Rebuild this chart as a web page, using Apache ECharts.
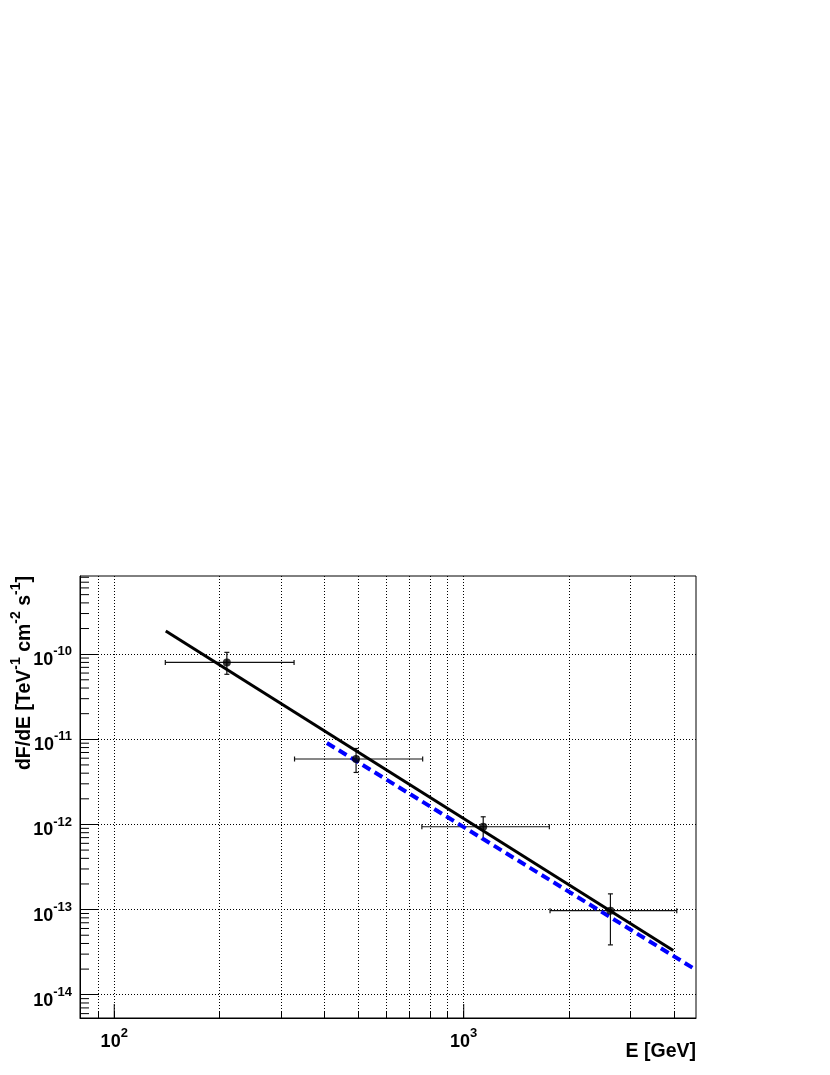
<!DOCTYPE html>
<html><head><meta charset="utf-8">
<script src="https://cdn.jsdelivr.net/npm/echarts@6/dist/echarts.min.js"></script>
<style>html,body{margin:0;padding:0;background:#fff}#c{width:830px;height:1075px}</style>
</head><body><div id="c"></div>
<script>
// ---- axis ranges and ticks ----
const xRange = [79.8, 4620];
const yRange = [5.33e-15, 8.28e-10];
const xLabelTicks = [100, 1000];
const xGridTicks = [90, 100, 200, 300, 400, 500, 600, 700, 800, 900, 1000, 2000, 3000, 4000];
const yMajorTicks = [1e-14, 1e-13, 1e-12, 1e-11, 1e-10];
const yMinorTicks = [6e-15, 7e-15, 8e-15, 9e-15,
  2e-14, 3e-14, 4e-14, 5e-14, 6e-14, 7e-14, 8e-14, 9e-14,
  2e-13, 3e-13, 4e-13, 5e-13, 6e-13, 7e-13, 8e-13, 9e-13,
  2e-12, 3e-12, 4e-12, 5e-12, 6e-12, 7e-12, 8e-12, 9e-12,
  2e-11, 3e-11, 4e-11, 5e-11, 6e-11, 7e-11, 8e-11, 9e-11,
  2e-10, 3e-10, 4e-10, 5e-10, 6e-10, 7e-10, 8e-10];

// ---- data points (E in GeV, dF/dE) ----
const energy     = [210, 492, 1137, 2629];
const flux       = [8.0e-11, 5.87e-12, 9.4e-13, 9.7e-14];
const energyLow  = [140, 328, 759, 1766];
const energyHigh = [327, 763, 1758, 4070];
const fluxLow    = [5.8e-11, 4.08e-12, 6.7e-13, 3.85e-14];
const fluxHigh   = [1.05e-10, 7.8e-12, 1.23e-12, 1.53e-13];

// ---- fitted power laws (end points) ----
const fitE = [140.4, 3977];
const fitF = [1.876e-10, 3.3e-14];
const refE = [406, 4620];
const refF = [9.05e-12, 1.96e-14];

const FONT = '"Liberation Sans", Arial, Helvetica, sans-serif';

const chart = echarts.init(document.getElementById('c'), null, {renderer: 'canvas'});

function powLabel(v) {
  const e = Math.round(Math.log10(v));
  return '{b|10}{s|' + e + '}';
}
const labelRich = {
  b: {fontSize: 18, fontWeight: 'bold', fontFamily: FONT, color: '#000', lineHeight: 24, verticalAlign: 'bottom'},
  s: {fontSize: 13, fontWeight: 'bold', fontFamily: FONT, color: '#000', lineHeight: 12, verticalAlign: 'top'}
};
const gridDots = {show: true, lineStyle: {color: '#000', width: 1, type: [1, 2]}};

const errData = energy.map((e, i) => [e, flux[i], energyLow[i], energyHigh[i], fluxLow[i], fluxHigh[i]]);

chart.setOption({
  animation: false,
  backgroundColor: '#fff',
  grid: {left: 80, top: 576, right: 134, bottom: 57, show: true, borderColor: '#000', borderWidth: 1, backgroundColor: 'transparent'},
  xAxis: {
    type: 'log', logBase: 10, min: xRange[0], max: xRange[1],
    axisLine: {show: true, onZero: false, lineStyle: {color: '#000', width: 1}},
    axisTick: {show: true, inside: true, length: 7, customValues: xGridTicks, lineStyle: {color: '#000', width: 1}},
    axisLabel: {show: true, customValues: xLabelTicks, formatter: powLabel, rich: labelRich, margin: 9},
    splitLine: gridDots,
    minorTick: {show: false}, minorSplitLine: {show: false}
  },
  yAxis: {
    type: 'log', logBase: 10, min: yRange[0], max: yRange[1],
    axisLine: {show: true, onZero: false, lineStyle: {color: '#000', width: 1}},
    axisTick: {show: true, inside: true, length: 18, customValues: yMajorTicks, lineStyle: {color: '#000', width: 1}},
    axisLabel: {show: true, customValues: yMajorTicks, formatter: powLabel, rich: labelRich, margin: 8, padding: [6, 0, 0, 0]},
    splitLine: gridDots,
    minorTick: {show: false}, minorSplitLine: {show: false}
  },
  graphic: [
    {type: 'text', x: 22, y: 576, rotation: Math.PI / 2,
      style: {text: '{b|dF/dE [TeV}{s|-1}{b| cm}{s|-2}{b| s}{s|-1}{b|]}', align: 'right', verticalAlign: 'middle',
        rich: {
          b: {fontSize: 19.5, fontWeight: 'bold', fontFamily: FONT, fill: '#000', lineHeight: 26, verticalAlign: 'bottom'},
          s: {fontSize: 14, fontWeight: 'bold', fontFamily: FONT, fill: '#000', lineHeight: 13, verticalAlign: 'top'}
        }}},
    {type: 'text', x: 696, y: 1052,
      style: {text: 'E [GeV]', align: 'right', verticalAlign: 'middle', font: 'bold 19.5px ' + FONT, fill: '#000'}}
  ],
  series: [
    { // extra length of x major ticks
      type: 'custom', silent: true, clip: false,
      data: xLabelTicks.map(v => [v, yRange[0]]),
      renderItem: function (params, api) {
        const p = api.coord([api.value(0), api.value(1)]);
        return {type: 'line', shape: {x1: p[0], y1: p[1], x2: p[0], y2: p[1] - 14}, style: {stroke: '#000', lineWidth: 1}};
      }
    },
    { // y minor ticks
      type: 'custom', silent: true, clip: false,
      data: yMinorTicks.map(v => [xRange[0], v]),
      renderItem: function (params, api) {
        const p = api.coord([api.value(0), api.value(1)]);
        return {type: 'line', shape: {x1: p[0], y1: p[1], x2: p[0] + 9, y2: p[1]}, style: {stroke: '#000', lineWidth: 1}};
      }
    },
    { // error bars
      type: 'custom', silent: true,
      data: errData,
      renderItem: function (params, api) {
        const c = api.coord([api.value(0), api.value(1)]);
        const l = api.coord([api.value(2), api.value(1)]);
        const r = api.coord([api.value(3), api.value(1)]);
        const lo = api.coord([api.value(0), api.value(4)]);
        const hi = api.coord([api.value(0), api.value(5)]);
        const st = {stroke: '#111', lineWidth: 1.2};
        return {type: 'group', children: [
          {type: 'line', shape: {x1: l[0], y1: c[1], x2: r[0], y2: c[1]}, style: st},
          {type: 'line', shape: {x1: l[0], y1: c[1] - 2.5, x2: l[0], y2: c[1] + 2.5}, style: st},
          {type: 'line', shape: {x1: r[0], y1: c[1] - 2.5, x2: r[0], y2: c[1] + 2.5}, style: st},
          {type: 'line', shape: {x1: c[0], y1: lo[1], x2: c[0], y2: hi[1]}, style: st},
          {type: 'line', shape: {x1: c[0] - 2.5, y1: lo[1], x2: c[0] + 2.5, y2: lo[1]}, style: st},
          {type: 'line', shape: {x1: c[0] - 2.5, y1: hi[1], x2: c[0] + 2.5, y2: hi[1]}, style: st}
        ]};
      }
    },
    {
      type: 'scatter', data: energy.map((e, i) => [e, flux[i]]),
      symbol: 'circle', symbolSize: 8, itemStyle: {color: '#000'}, z: 5
    },
    {
      type: 'line', data: fitE.map((e, i) => [e, fitF[i]]), showSymbol: false, symbol: 'none',
      lineStyle: {color: '#000', width: 3}, z: 3
    },
    {
      type: 'line', data: refE.map((e, i) => [e, refF[i]]), showSymbol: false, symbol: 'none',
      lineStyle: {color: '#0000ff', width: 4, type: [9, 5]}, z: 4
    }
  ]
});
</script>
</body></html>
